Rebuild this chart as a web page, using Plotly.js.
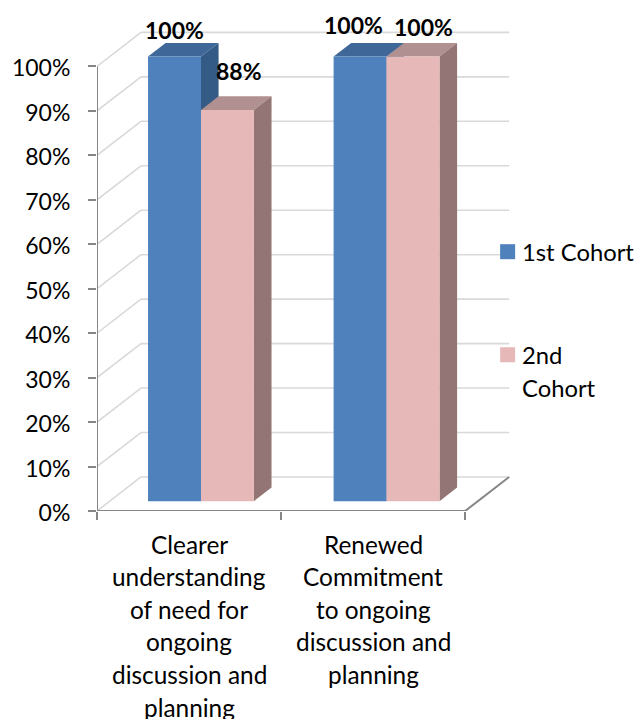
<!DOCTYPE html>
<html>
<head>
<meta charset="utf-8">
<script src="https://cdn.plot.ly/plotly-3.0.1.min.js"></script>
<style>html,body{margin:0;padding:0;background:#fff}#chart{width:636px;height:719px}</style>
</head>
<body>
<div id="chart"></div>
<script>
// ---- data ----
const categoryLines = [
  ["Clearer", "understanding", "of need for", "ongoing", "discussion and", "planning"],
  ["Renewed", "Commitment", "to ongoing", "discussion and", "planning"]
];
const seriesLines = [["1st Cohort"], ["2nd", "Cohort"]];
const cohort1 = [1.00, 1.00];
const cohort2 = [0.88, 1.00];
const yTicks = [0, 0.1, 0.2, 0.3, 0.4, 0.5, 0.6, 0.7, 0.8, 0.9, 1.0];
const xTicks = [0, 1, 2];

// ---- styles ----
const FONT = "Lato, Carlito, sans-serif";
const FS_NUM = 23, FS_TXT = 24.4, FS_LEG = 23.8;
const front = ["#4F81BD", "#E6B9B8"];
const topFace = ["#3F6797", "#B09090"];
const sideFace = ["#345A86", "#937575"];
const GRID = "#D9D9D9", AXIS = "#868686";

// plot frame in page pixels
const L = 96.5, B = 208.3, T = 21.9, W = 636, H = 719;
const unitX = 184.25, unitY = 444.4;
const xMax = (W - L) / unitX, yMax = (H - B - T) / unitY;
const px2x = p => (p - L) / unitX;
const px2y = p => (H - B - p) / unitY;

// oblique projection, in axis units
const depthX = 0.2388, depthY = 0.0765;
const nearF = 0.29, farF = 0.69;
const barW = 0.2877, sideGap = 0.212;
const groupNudge = [-0.004, 0.004];
const nx = nearF * depthX, ny = nearF * depthY;
const fx = farF * depthX, fy = farF * depthY;
const barLeft = (c, s) => c + sideGap + s * barW + nx + groupNudge[c];

function poly(pts) { return "M" + pts.map(p => p[0] + "," + p[1]).join("L") + "Z"; }
const shapes = [];
function seg(x0, y0, x1, y1, color, w) {
  shapes.push({type: "line", xref: "x", yref: "y", layer: "below", x0, y0, x1, y1,
    line: {color, width: w}});
}
yTicks.forEach(t => {
  seg(0, t, depthX, t + depthY, GRID, 1.6);
  seg(depthX, t + depthY, 2 + depthX, t + depthY, GRID, 1.6);
});
seg(2, 0, 2 + depthX, depthY, AXIS, 2);
seg(0, 0, 0, 1, AXIS, 2);
seg(0, 0, 2, 0, AXIS, 2);

[cohort1, cohort2].forEach((vals, s) => {
  vals.forEach((v, c) => {
    const xL = barLeft(c, s), xR = xL + barW;
    const yB = ny, yT = ny + v, dx = fx - nx, dy = fy - ny;
    shapes.push({type: "path", xref: "x", yref: "y", layer: "below", fillcolor: topFace[s],
      line: {width: 0}, path: poly([[xL, yT], [xR, yT], [xR + dx, yT + dy], [xL + dx, yT + dy]])});
    shapes.push({type: "path", xref: "x", yref: "y", layer: "below", fillcolor: sideFace[s],
      line: {width: 0}, path: poly([[xR, yB], [xR + dx, yB + dy], [xR + dx, yT + dy], [xR, yT]])});
  });
});

const traces = [cohort1, cohort2].map((vals, s) => ({
  type: "bar",
  name: seriesLines[s].join(" "),
  x: vals.map((v, c) => barLeft(c, s) + barW / 2),
  y: vals,
  base: vals.map(() => ny),
  width: barW,
  marker: {color: front[s], line: {width: 0}},
  hoverinfo: "skip",
  showlegend: false
}));

const annotations = [];
categoryLines.forEach((lines, c) => {
  lines.forEach((txt, i) => {
    annotations.push({xref: "x", yref: "y", x: c + 0.5, y: 0, yshift: -33 - i * 32.6,
      text: txt, showarrow: false, xanchor: "center", yanchor: "middle",
      font: {family: FONT, size: FS_TXT, color: "#000"}});
  });
});
const labelNudgeX = [[0, -7], [12, 10]];
const labelNudgeY = [[27, 32], [39, 30]];
[cohort1, cohort2].forEach((vals, s) => {
  vals.forEach((v, c) => {
    annotations.push({xref: "x", yref: "y",
      x: barLeft(c, s) + barW / 2, y: ny + v,
      xshift: labelNudgeX[s][c], yshift: labelNudgeY[s][c],
      text: "<b>" + Math.round(v * 100) + "%</b>", showarrow: false,
      xanchor: "center", yanchor: "middle",
      font: {family: FONT, size: FS_NUM, color: "#000"}});
  });
});

// legend key, placed in page pixels
const legendSwatchX = 500, legendSwatchSize = 15, legendTextX = 522;
const legendRowY = [251.5, 354.5], legendLineGap = 33;
seriesLines.forEach((lines, s) => {
  const yc = legendRowY[s];
  shapes.push({type: "rect", xref: "x", yref: "y", layer: "above", fillcolor: front[s], line: {width: 0},
    x0: px2x(legendSwatchX), x1: px2x(legendSwatchX + legendSwatchSize),
    y0: px2y(yc + legendSwatchSize / 2), y1: px2y(yc - legendSwatchSize / 2)});
  lines.forEach((txt, i) => {
    annotations.push({xref: "x", yref: "y", x: px2x(legendTextX), y: px2y(yc + i * legendLineGap),
      text: txt, showarrow: false, xanchor: "left", yanchor: "middle", xshift: -2,
      font: {family: FONT, size: FS_LEG, color: "#000"}});
  });
});

const layout = {
  width: W, height: H,
  margin: {l: L, r: 0, t: T, b: B, pad: 0, autoexpand: false},
  paper_bgcolor: "#fff", plot_bgcolor: "rgba(0,0,0,0)",
  barmode: "overlay",
  showlegend: false,
  xaxis: {range: [0, xMax], tickmode: "array", tickvals: xTicks, ticktext: xTicks.map(() => ""),
    ticks: "outside", ticklen: 8, tickwidth: 2, tickcolor: AXIS, showgrid: false, zeroline: false, showline: false},
  yaxis: {range: [0, yMax], tickmode: "array", tickvals: yTicks, ticktext: yTicks.map(t => Math.round(t * 100) + "%"),
    ticks: "outside", ticklen: 8, tickwidth: 2, tickcolor: AXIS, showgrid: false, zeroline: false, showline: false,
    ticklabelstandoff: 13, ticklabelshift: 2,
    tickfont: {family: FONT, size: FS_NUM, color: "#000"}},
  shapes, annotations
};
Plotly.newPlot("chart", traces, layout, {displayModeBar: false, staticPlot: true});
</script>
</body>
</html>
